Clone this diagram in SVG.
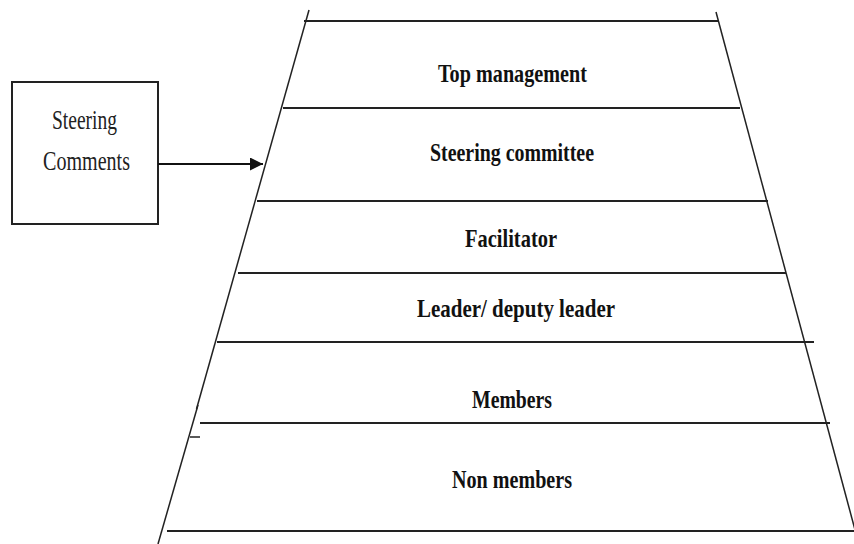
<svg xmlns="http://www.w3.org/2000/svg" width="854" height="544" viewBox="0 0 854 544">
  <defs>
    <style>
      .rule { stroke: #222; stroke-width: 2.2; fill: none; }
      .side { stroke: #222; stroke-width: 1.5; fill: none; }
      .lvl { font-family: "Liberation Serif", "Times New Roman", serif; font-weight: bold; font-size: 26px; fill: #111; }
      .box { fill: #fff; stroke: #222; stroke-width: 2; }
      .boxtxt { font-family: "Liberation Serif", "Times New Roman", serif; font-size: 27px; fill: #222; }
      .conn { stroke: #111; stroke-width: 2.2; fill: none; }
    </style>
    <marker id="arrowhead" viewBox="0 0 10 10" refX="10" refY="5" markerWidth="13" markerHeight="13" markerUnits="userSpaceOnUse" orient="auto">
      <path d="M0,0 L10,5 L0,10 z" fill="#111"/>
    </marker>
  </defs>
  <rect width="854" height="544" fill="#fff"/>

  <!-- pyramid sides -->
  <g id="pyramid-sides">
    <line class="side" x1="309" y1="10" x2="196.5" y2="409"/>
    <line class="side" x1="198" y1="405" x2="158" y2="544"/>
    <line class="side" x1="190" y1="437" x2="200" y2="437"/>
    <line class="side" x1="716" y1="12" x2="858" y2="541"/>
  </g>

  <g id="level-top">
    <line class="rule" x1="304" y1="21" x2="718" y2="21"/>
    <text class="lvl" x="438" y="82" textLength="149" lengthAdjust="spacingAndGlyphs">Top management</text>
    <line class="rule" x1="283" y1="108" x2="740" y2="108"/>
  </g>

  <g id="level-steering">
    <text class="lvl" x="430" y="161" textLength="164" lengthAdjust="spacingAndGlyphs">Steering committee</text>
    <line class="rule" x1="257" y1="201" x2="768" y2="201"/>
  </g>

  <g id="level-facilitator">
    <text class="lvl" x="465" y="247" textLength="92" lengthAdjust="spacingAndGlyphs">Facilitator</text>
    <line class="rule" x1="238" y1="273" x2="786" y2="273"/>
  </g>

  <g id="level-leader">
    <text class="lvl" x="417" y="317" textLength="198" lengthAdjust="spacingAndGlyphs">Leader/ deputy leader</text>
    <line class="rule" x1="217" y1="342" x2="814" y2="342"/>
  </g>

  <g id="level-members">
    <text class="lvl" x="472" y="408" textLength="80" lengthAdjust="spacingAndGlyphs">Members</text>
    <line class="rule" x1="200" y1="423" x2="830" y2="423"/>
  </g>

  <g id="level-nonmembers">
    <text class="lvl" x="452" y="488" textLength="120" lengthAdjust="spacingAndGlyphs">Non members</text>
    <line class="rule" x1="167" y1="531" x2="854" y2="531"/>
  </g>

  <g id="steering-comments">
    <rect class="box" x="12" y="82" width="146" height="142"/>
    <text class="boxtxt" x="52" y="129" textLength="65" lengthAdjust="spacingAndGlyphs">Steering</text>
    <text class="boxtxt" x="43" y="170" textLength="87" lengthAdjust="spacingAndGlyphs">Comments</text>
  </g>

  <g id="connectors">
    <line class="conn" x1="158" y1="164" x2="263" y2="164" marker-end="url(#arrowhead)"/>
  </g>
</svg>
